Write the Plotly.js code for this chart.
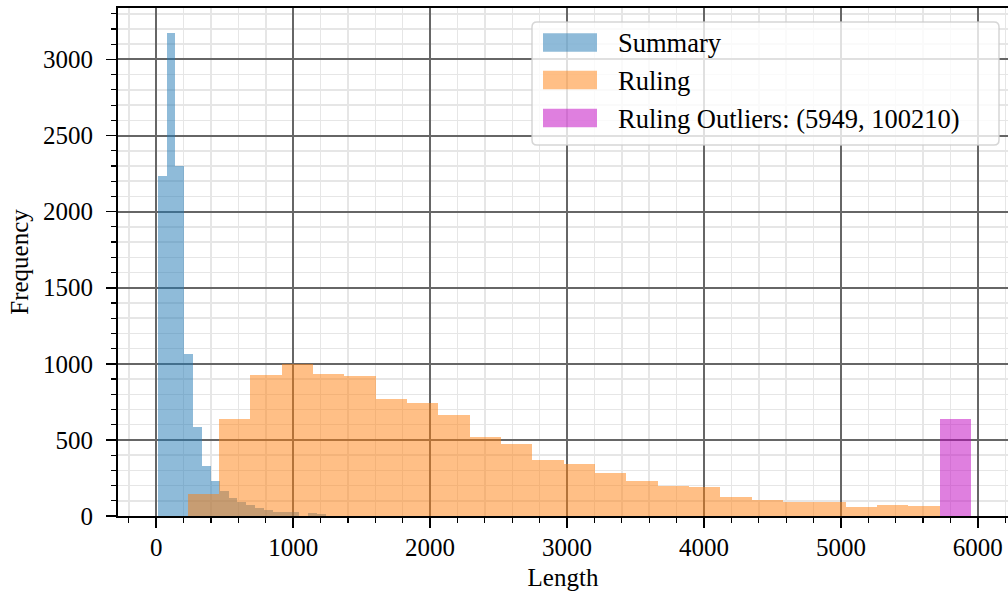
<!DOCTYPE html>
<html><head><meta charset="utf-8">
<script src="https://cdn.plot.ly/plotly-3.0.1.min.js"></script>
<style>html,body{margin:0;padding:0;background:#fff}</style>
</head><body><div id="chart" style="width:1008px;height:594px"></div>
<script>
// ---- data ----
const summaryBinStart = 11;
const summaryBinWidth = 64.7;
const summaryCounts = [2237, 3175, 2303, 1066, 586, 329, 230, 166, 120, 94, 72, 55, 39, 28, 28, 26, 0, 22, 15];

const rulingBinStart = 231;
const rulingBinWidth = 228.7;
const rulingCounts = [143, 638, 928, 998, 934, 921, 770, 743, 664, 520, 474, 368,
                      342, 283, 230, 197, 191, 125, 103, 92, 92, 59, 72, 66];

const outlierEdges = [5720, 5949];
const outlierCounts = [638];

const legendLabels = ['Summary', 'Ruling', 'Ruling Outliers: (5949, 100210)'];
const xTitle = 'Length';
const yTitle = 'Frequency';

// ---- styling ----
const FONT = 'Liberation Serif, Times New Roman, serif';
const cBlue = 'rgba(31,119,180,0.5)';
const cOrange = 'rgba(255,127,14,0.5)';
const cMagenta = 'rgba(191,0,191,0.5)';

function centers(start, w, n) { return Array.from({length: n}, (_, i) => start + w * (i + 0.5)); }

const traces = [
  {type: 'bar', name: legendLabels[0], x: centers(summaryBinStart, summaryBinWidth, summaryCounts.length),
   y: summaryCounts, width: summaryBinWidth, marker: {color: cBlue, line: {width: 0}}, showlegend: false},
  {type: 'bar', name: legendLabels[1], x: centers(rulingBinStart, rulingBinWidth, rulingCounts.length),
   y: rulingCounts, width: rulingBinWidth, marker: {color: cOrange, line: {width: 0}}, showlegend: false},
  {type: 'bar', name: legendLabels[2], x: [(outlierEdges[0] + outlierEdges[1]) / 2],
   y: outlierCounts, width: outlierEdges[1] - outlierEdges[0], marker: {color: cMagenta, line: {width: 0}}, showlegend: false}
];

// plot area in pixels
const L = 118, R = 1008, T = 8, B = 516;
const px = v => (v - L) / (R - L);
const py = v => (B - v) / (B - T);

function roundRect(x0, y0, x1, y1, r) {
  const X = px, Y = py;
  return 'M' + X(x0 + r) + ',' + Y(y0) +
    ' L' + X(x1 - r) + ',' + Y(y0) + ' Q' + X(x1) + ',' + Y(y0) + ' ' + X(x1) + ',' + Y(y0 + r) +
    ' L' + X(x1) + ',' + Y(y1 - r) + ' Q' + X(x1) + ',' + Y(y1) + ' ' + X(x1 - r) + ',' + Y(y1) +
    ' L' + X(x0 + r) + ',' + Y(y1) + ' Q' + X(x0) + ',' + Y(y1) + ' ' + X(x0) + ',' + Y(y1 - r) +
    ' L' + X(x0) + ',' + Y(y0 + r) + ' Q' + X(x0) + ',' + Y(y0) + ' ' + X(x0 + r) + ',' + Y(y0) + ' Z';
}

const legendColors = [cBlue, cOrange, cMagenta];
const rowY = [42.5, 80, 118];
const shapes = [{type: 'path', xref: 'paper', yref: 'paper', path: roundRect(532, 22, 999, 145, 5),
  fillcolor: 'rgba(255,255,255,0.8)', line: {color: 'rgba(204,204,204,0.8)', width: 1.5}, layer: 'above'}];
const annotations = [];
legendLabels.forEach((lab, i) => {
  shapes.push({type: 'rect', xref: 'paper', yref: 'paper', x0: px(543), x1: px(597), y0: py(rowY[i] - 9.2), y1: py(rowY[i] + 9.2),
    fillcolor: legendColors[i], line: {width: 0}, layer: 'above'});
  annotations.push({xref: 'paper', yref: 'paper', x: px(616), y: py(rowY[i] + 1), xanchor: 'left', yanchor: 'middle',
    text: lab, showarrow: false, font: {family: FONT, size: 26.5, color: '#000'}});
});

const axisCommon = {
  ticks: 'outside', ticklen: 10, tickwidth: 1.6, tickcolor: '#000',
  showline: true, linecolor: '#000', linewidth: 2,
  showgrid: true, gridcolor: '#666666', gridwidth: 2, zeroline: false,
  tickfont: {family: FONT, size: 25, color: '#000'},
};

const layout = {
  width: 1008, height: 594,
  margin: {l: L, r: 1008 - R, t: T, b: 594 - B, pad: 0},
  paper_bgcolor: '#fff', plot_bgcolor: '#fff',
  barmode: 'overlay', bargap: 0,
  showlegend: false,
  xaxis: Object.assign({}, axisCommon, {
    range: [-279, 6220], tick0: 0, dtick: 1000, mirror: true, ticklabelstandoff: -2,
    minor: {tick0: 0, dtick: 200, ticks: 'outside', ticklen: 5, tickwidth: 1.2, tickcolor: '#000',
            showgrid: true, gridcolor: '#e6e6e6', gridwidth: 1.5},
    title: {text: xTitle, font: {family: FONT, size: 25, color: '#000'}, standoff: 8}
  }),
  yaxis: Object.assign({}, axisCommon, {
    range: [0, 3338], tick0: 0, dtick: 500, ticklabelstandoff: 8,
    minor: {tick0: 0, dtick: 100, ticks: 'outside', ticklen: 5, tickwidth: 1.2, tickcolor: '#000',
            showgrid: true, gridcolor: '#e6e6e6', gridwidth: 1.5},
    title: {text: yTitle, font: {family: FONT, size: 25, color: '#000'}, standoff: 7}
  }),
  shapes: shapes,
  annotations: annotations
};

Plotly.newPlot('chart', traces, layout, {displayModeBar: false, staticPlot: true});
</script></body></html>
